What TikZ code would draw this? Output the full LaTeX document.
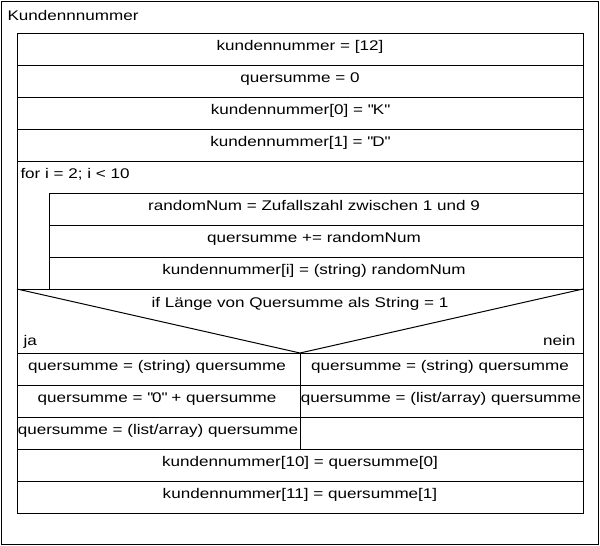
\documentclass[tikz,border=0pt]{standalone}
\usepackage{fontspec}
\setmainfont[FakeStretch=1.22]{Liberation Sans}

\begin{document}
\begin{tikzpicture}[x=1pt, y=-1pt, line width=1pt,
                  txt/.style={anchor=base, inner sep=0pt,
                  font=\fontsize{14}{16}\selectfont}]
                  \useasboundingbox (0,0) rectangle (600,546);

                  % Rahmen und Titel.
                  \draw (1,1) rectangle (598,544);
                  \node[txt, anchor=base west] (titel) at (7,20) {Kundennnummer};

                  % Anweisungsblock mit Zeilen.
                  \draw (17,33) rectangle (583,513);
                  \draw (17,65) -- (583,65) (17,97) -- (583,97)
                        (17,129) -- (583,129) (17,161) -- (583,161)
                        (17,289) -- (583,289) (17,353) -- (583,353)
                        (17,385) -- (583,385) (17,417) -- (583,417)
                        (17,449) -- (583,449) (17,481) -- (583,481);
                  \node[txt] (k12) at (300,50) {kundennummer = [12]};
                  \node[txt] (qs0) at (300,82) {quersumme = 0};
                  \node[txt] (kK) at (300,114) {kundennummer[0] = \textquotedbl K\textquotedbl};
                  \node[txt] (kD) at (300,146) {kundennummer[1] = \textquotedbl D\textquotedbl};

                  % Schleife.
                  \node[txt, anchor=base west] (for) at (20,178) {for i = 2; i < 10};
                  \draw (49,193) rectangle (583,289);
                  \draw (49,225) -- (583,225) (49,257) -- (583,257);
                  \node[txt] (rnd) at (314,210) {randomNum = Zufallszahl zwischen 1 und 9};
                  \node[txt] (qsadd) at (314,242) {quersumme += randomNum};
                  \node[txt] (ki) at (314,274) {kundennummer[i] = (string) randomNum};

                  % Verzweigung.
                  \draw (17,289) -- (300,353) -- (583,289);
                  \draw (300,353) -- (300,449);
                  \node[txt] (if) at (300,307) {if Länge von Quersumme als String = 1};
                  \node[txt, anchor=base west] (ja) at (23,345) {ja};
                  \node[txt, anchor=base east] (nein) at (576,345) {nein};
                  \node[txt] (ja1) at (157,370) {quersumme = (string) quersumme};
                  \node[txt] (ja2) at (157,402) {quersumme = \textquotedbl 0\textquotedbl{} + quersumme};
                  \node[txt] (ja3) at (158,434) {quersumme = (list/array) quersumme};
                  \node[txt] (nein1) at (440,370) {quersumme = (string) quersumme};
                  \node[txt] (nein2) at (441,402) {quersumme = (list/array) quersumme};

                  % Letzte Zuweisungen.
                  \node[txt] (k10) at (300,466) {kundennummer[10] = quersumme[0]};
                  \node[txt] (k11) at (300,498) {kundennummer[11] = quersumme[1]};
\end{tikzpicture}
\end{document}
